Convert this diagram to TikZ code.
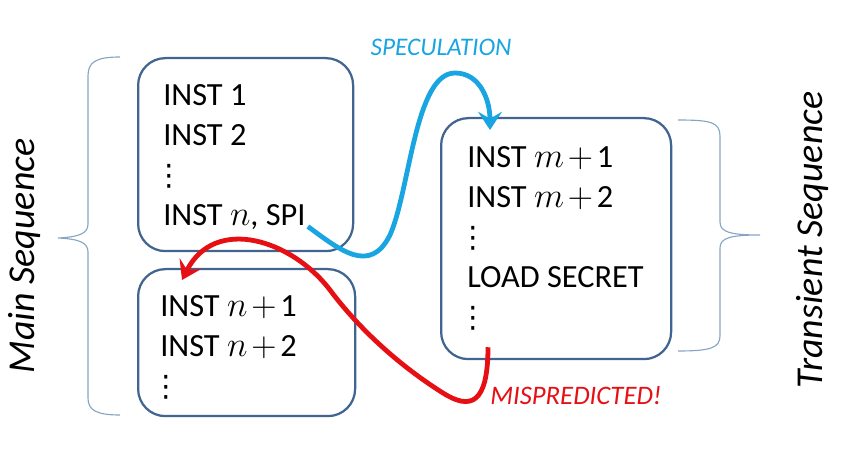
\documentclass[tikz,border=0pt]{standalone}
\usepackage{fontspec}
\setmainfont{Carlito}
\newfontfamily\symfont{DejaVu Sans}
\usetikzlibrary{arrows.meta}

\definecolor{boxline}{RGB}{65,100,145}
\definecolor{braceline}{RGB}{135,165,195}
\definecolor{specblue}{RGB}{25,165,225}
\definecolor{misred}{RGB}{230,15,20}

\newcommand{\px}{0.025cm}
\newcommand{\vdts}{{\symfont\fontsize{21}{28.4}\selectfont\kern-6.5pt⋮}}
\newcommand{\pls}[1]{$#1\mkern2mu{+}\mkern2mu$}

\begin{document}
\begin{tikzpicture}[x=\px, y=-\px,
	seqbox/.style={draw=boxline, line width=1.6pt, fill=white, rounded corners=0.68cm,
		inner sep=0pt, anchor=north west},
	insts/.style={font=\fontsize{23}{28.4}\selectfont, align=left, inner sep=0pt, anchor=north west},
	seqlabel/.style={font=\fontsize{27}{31}\selectfont\itshape, rotate=90, anchor=base, inner sep=0pt},
	brace/.style={draw=braceline, line width=0.8pt},
	flow/.style={line width=3.4pt, -{Stealth[length=13pt, width=17pt, inset=5pt]}}]
	\useasboundingbox (0, 0) rectangle (851, 472);

	% boxes
	\node[seqbox, minimum width=215*\px, minimum height=193*\px] (mainA) at (137, 57) {};
	\node[seqbox, minimum width=217*\px, minimum height=147*\px] (mainB) at (137, 268) {};
	\node[seqbox, minimum width=230*\px, minimum height=241*\px] (trans) at (440, 117) {};

	\node[insts] (mainAtxt) at ([shift={(26, 27)}]mainA.north west)
		{INST 1\\INST 2\\\vdts\\INST $n$, SPI};
	\node[insts] (mainBtxt) at ([shift={(23, 27)}]mainB.north west)
		{INST \pls{n}1\\INST \pls{n}2\\\vdts};
	\node[insts] (transtxt) at ([shift={(27, 29)}]trans.north west)
		{INST \pls{m}1\\INST \pls{m}2\\\vdts\\LOAD SECRET\\\vdts};

	% braces
	\draw[brace] (120, 57) .. controls (96, 57) and (88, 62) .. (88, 76) -- (88, 224)
		.. controls (88, 233) and (80, 237) .. (58, 238)
		.. controls (80, 239) and (88, 243) .. (88, 252) -- (88, 398)
		.. controls (88, 410) and (96, 415) .. (120, 415);
	\draw[brace] (678, 120) .. controls (710, 120) and (720, 122) .. (720, 136) -- (720, 222)
		.. controls (720, 232) and (730, 235) .. (760, 235)
		.. controls (730, 235) and (720, 238) .. (720, 248) -- (720, 336)
		.. controls (720, 348) and (710, 351) .. (678, 351);

	\node[seqlabel] (mainlab) at (34, 256) {Main Sequence};
	\node[seqlabel] (translab) at (822, 240) {Transient Sequence};

	% arrows
	\coordinate (spi) at ([shift={(2, -3)}]mainAtxt.south east);
	\coordinate (spectip) at ([shift={(50, 13)}]trans.north west);
	\coordinate (secret) at ([shift={(48, -13)}]trans.south west);
	\coordinate (misstip) at ([shift={(45, 12)}]mainB.north west);

	\draw[flow, specblue] (spi) .. controls (340, 250) and (370, 275) .. (390, 235)
		.. controls (410, 190) and (415, 73) .. (455, 73)
		.. controls (480, 73) and (490, 100) .. (spectip);
	\draw[flow, misred] (secret) .. controls (488, 405) and (470, 410) .. (443, 393)
		.. controls (400, 366) and (360, 330) .. (330, 290)
		.. controls (292, 240) and (215, 215) .. (misstip);

	\node[font=\fontsize{18}{22}\selectfont\itshape, text=specblue, anchor=base, inner sep=0pt]
		(speclab) at (441, 56) {SPECULATION};
	\node[font=\fontsize{19}{23}\selectfont\itshape, text=misred, anchor=base, inner sep=0pt]
		(misslab) at (576, 405) {MISPREDICTED!};
\end{tikzpicture}
\end{document}
